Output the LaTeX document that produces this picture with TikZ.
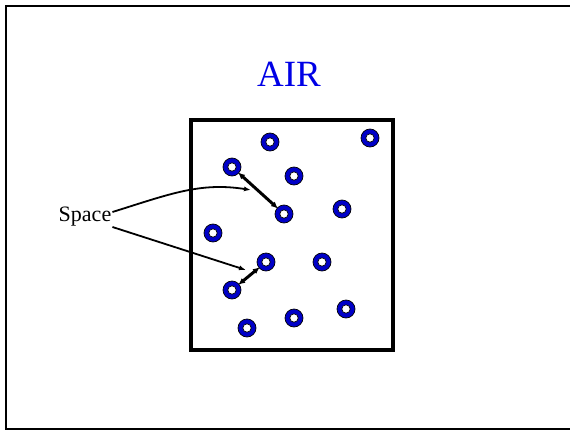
\documentclass[tikz,border=0pt]{standalone}
\usepackage{fontspec}
\setmainfont{Liberation Serif}
\usetikzlibrary{arrows.meta}
\definecolor{ringblue}{RGB}{0,0,200}
\definecolor{airblue}{RGB}{0,0,230}
\tikzset{
  ring/.pic={
    \fill[ringblue,draw=black,line width=0.7pt] (0,0) circle (9);
    \fill[white,draw=black,line width=0.7pt] (0,0) circle (4.2);
  },
  dbl/.style={{Latex[length=7pt,width=6pt]}-{Latex[length=7pt,width=6pt]},line width=3pt},
  pointer/.style={-{Latex[length=7pt,width=5pt]},line width=1.8pt},
}
\begin{document}
\begin{tikzpicture}[x=1pt,y=-1pt]
\useasboundingbox (0,0) rectangle (570,431);
\begin{scope}
\clip (0,0) rectangle (570,431);
\draw[line width=2pt] (6,6) rectangle (580,429);
\end{scope}
\node[text=airblue,font=\fontsize{37}{42}\selectfont] (air) at (289,74) {AIR};
\draw[line width=4pt] (191,120) rectangle (393,350);
\foreach \n/\x/\y in {c1/270/142, c2/370/138, c3/232/167, c4/294/176, c5/284/214, c6/342/209, c7/213/233, c8/266/262, c9/322/262, c10/232/290, c11/346/309, c12/294/318, c13/247/328}{
  \coordinate (\n) at (\x,\y);
  \pic at (\n) {ring};
}
\draw[dbl,shorten <=8pt,shorten >=8pt] (c3) -- (c5);
\draw[dbl,shorten <=8pt,shorten >=8pt] (c10) -- (c8);
\node[font=\fontsize{22}{26}\selectfont,inner sep=0pt] (space) at (85,217) {Space};
\coordinate (t1) at (251,190);
\coordinate (t2) at (246,270);
\draw[pointer] (space.east) ++(1,-5) .. controls (170,194) and (200,182) .. (t1);
\draw[pointer] (space.east) ++(1,10) -- (t2);
\end{tikzpicture}
\end{document}
